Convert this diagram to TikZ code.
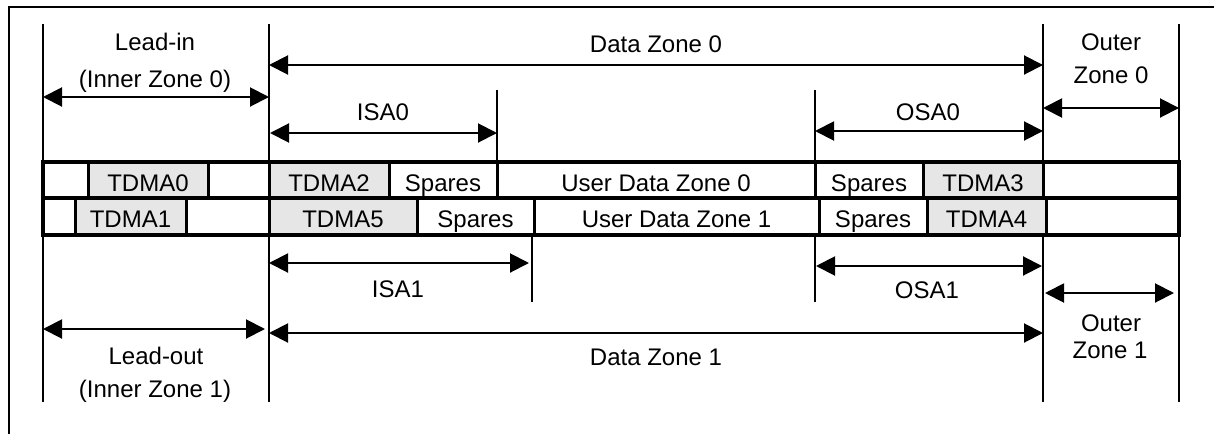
\documentclass[tikz,border=0pt]{standalone}
\usepackage{fontspec}
\setmainfont{Liberation Sans}
\usetikzlibrary{arrows.meta}
\definecolor{cellgray}{HTML}{E6E6E6}
\tikzset{
  txt/.style={font=\fontsize{24}{28}\selectfont, inner sep=0pt, anchor=base},
  cell/.style={draw, line width=3pt, inner sep=0pt, outer sep=0pt, fill=white,
     font=\fontsize{24}{28}\selectfont},
  gcell/.style={cell, fill=cellgray},
  guide/.style={line width=2pt},
  dim/.style={line width=2pt, {Triangle[length=19pt,width=19pt]}-{Triangle[length=19pt,width=19pt]}},
}
\begin{document}
\begin{tikzpicture}[x=1pt,y=-1pt]
\useasboundingbox (0,0) rectangle (1214,434);
% outer frame (partly outside the picture)
\draw[line width=2pt] (9,434) -- (9,7) -- (1214,7);

% guide lines
\draw[guide] (43,24) -- (43,402);
\draw[guide] (269,24) -- (269,402);
\draw[guide] (497,90) -- (497,162);
\draw[guide] (815,90) -- (815,162);
\draw[guide] (1043,24) -- (1043,402);
\draw[guide] (1179,24) -- (1179,402);
\draw[guide] (532,235) -- (532,302);
\draw[guide] (815,235) -- (815,302);

% row 0 cells
\node[cell,  minimum width=45pt,  minimum height=36pt] (a0) at (65.5,180) {};
\node[gcell, minimum width=120pt, minimum height=36pt] (tdma0) at (148,180) {};
\node[cell,  minimum width=61pt,  minimum height=36pt] (b0) at (238.5,180) {};
\node[gcell, minimum width=120pt, minimum height=36pt] (tdma2) at (329,180) {};
\node[cell,  minimum width=108pt, minimum height=36pt] (sp0l) at (443,180) {};
\node[cell,  minimum width=318pt, minimum height=36pt] (udz0) at (656,180) {};
\node[cell,  minimum width=108pt, minimum height=36pt] (sp0r) at (869,180) {};
\node[gcell, minimum width=120pt, minimum height=36pt] (tdma3) at (983,180) {};
\node[cell,  minimum width=136pt, minimum height=36pt] (c0) at (1111,180) {};
% row 1 cells
\node[cell,  minimum width=32pt,  minimum height=37pt] (a1) at (59,216.5) {};
\node[gcell, minimum width=111pt, minimum height=37pt] (tdma1) at (130.5,216.5) {};
\node[cell,  minimum width=83pt,  minimum height=37pt] (b1) at (227.5,216.5) {};
\node[gcell, minimum width=148pt, minimum height=37pt] (tdma5) at (343,216.5) {};
\node[cell,  minimum width=117pt, minimum height=37pt] (sp1l) at (475.5,216.5) {};
\node[cell,  minimum width=285pt, minimum height=37pt] (udz1) at (676.5,216.5) {};
\node[cell,  minimum width=108pt, minimum height=37pt] (sp1r) at (873,216.5) {};
\node[gcell, minimum width=119pt, minimum height=37pt] (tdma4) at (986.5,216.5) {};
\node[cell,  minimum width=133pt, minimum height=37pt] (c1) at (1112.5,216.5) {};
% outer box
\draw[line width=4pt] (43,162) rectangle (1179,235);
\draw[line width=4pt] (43,198) -- (1179,198);

% cell texts
\node[txt] at (148,191.5) {TDMA0};
\node[txt] at (329,191.5) {TDMA2};
\node[txt] at (443,191.5) {Spares};
\node[txt] at (656,191.5) {User Data Zone 0};
\node[txt] at (869,191.5) {Spares};
\node[txt] at (983,191.5) {TDMA3};
\node[txt] at (130.5,227.5) {TDMA1};
\node[txt] at (343,227.5) {TDMA5};
\node[txt] at (475.5,227.5) {Spares};
\node[txt] at (676.5,227.5) {User Data Zone 1};
\node[txt] at (873,227.5) {Spares};
\node[txt] at (986.5,227.5) {TDMA4};

% dimension arrow end points
\coordinate (li1) at (43,97);   \coordinate (li2) at (269,97);
\coordinate (dz01) at (269,65); \coordinate (dz02) at (1043,65);
\coordinate (isa01) at (270,133); \coordinate (isa02) at (497,133);
\coordinate (osa01) at (815,131); \coordinate (osa02) at (1043,131);
\coordinate (oz01) at (1043,108); \coordinate (oz02) at (1179,108);
\coordinate (isa11) at (269,263); \coordinate (isa12) at (529,263);
\coordinate (osa11) at (816,266); \coordinate (osa12) at (1042,266);
\coordinate (oz11) at (1045,293); \coordinate (oz12) at (1174,293);
\coordinate (lo1) at (43,329);  \coordinate (lo2) at (265,329);
\coordinate (dz11) at (269,333); \coordinate (dz12) at (1043,333);

\draw[dim] (li1) -- (li2);
\draw[dim] (dz01) -- (dz02);
\draw[dim] (isa01) -- (isa02);
\draw[dim] (osa01) -- (osa02);
\draw[dim] (oz01) -- (oz02);
\draw[dim] (isa11) -- (isa12);
\draw[dim] (osa11) -- (osa12);
\draw[dim] (oz11) -- (oz12);
\draw[dim] (lo1) -- (lo2);
\draw[dim] (dz11) -- (dz12);

% labels
\node[txt] (tli1) at (155,50) {Lead-in};
\node[txt] (tli2) at (155,87) {(Inner Zone 0)};
\node[txt] (tdz0) at (656,52) {Data Zone 0};
\node[txt] (tisa0) at (383,120.5) {ISA0};
\node[txt] (tosa0) at (928,120.5) {OSA0};
\node[txt] (toz01) at (1111,50) {Outer};
\node[txt] (toz02) at (1111,83) {Zone 0};
\node[txt] (tisa1) at (398,297) {ISA1};
\node[txt] (tosa1) at (927,298) {OSA1};
\node[txt] (toz11) at (1111,331.5) {Outer};
\node[txt] (toz12) at (1110,358) {Zone 1};
\node[txt] (tlo1) at (156,364) {Lead-out};
\node[txt] (tlo2) at (155,397) {(Inner Zone 1)};
\node[txt] (tdz1) at (656,365) {Data Zone 1};
\end{tikzpicture}
\end{document}
